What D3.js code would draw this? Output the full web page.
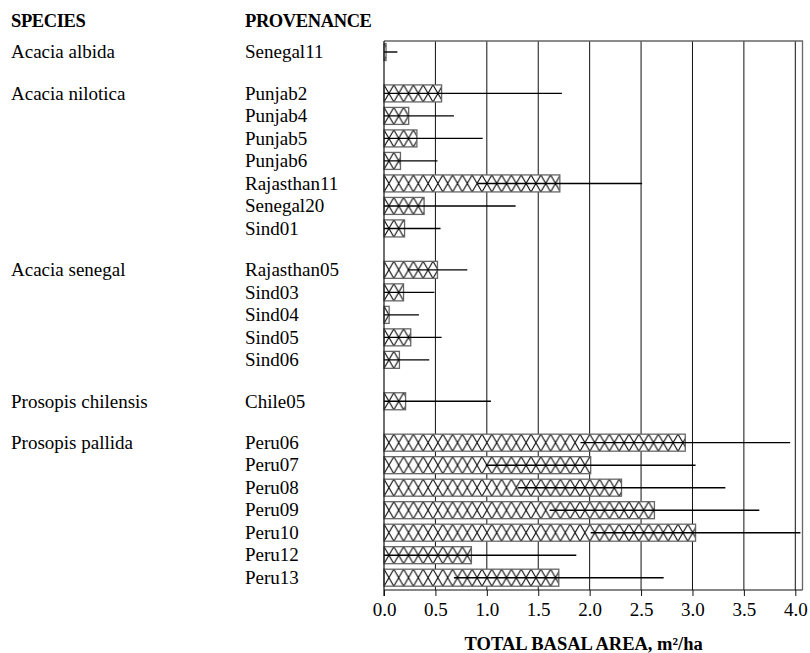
<!DOCTYPE html>
<html>
<head>
<meta charset="utf-8">
<script src="https://cdn.jsdelivr.net/npm/d3@7"></script>
<style>
  html, body { margin: 0; padding: 0; background: #fff; }
  svg { display: block; }
  text { font-family: "Liberation Serif", "Times New Roman", serif; fill: #000; }
</style>
</head>
<body>
<svg id="chart" width="810" height="653"></svg>
<script>
// Species groups and their provenances (one entry per bar)
const species = ["Acacia albida", "Acacia nilotica", "Acacia senegal", "Prosopis chilensis", "Prosopis pallida"];
const provenances = [
  "Senegal11",
  "Punjab2", "Punjab4", "Punjab5", "Punjab6", "Rajasthan11", "Senegal20", "Sind01",
  "Rajasthan05", "Sind03", "Sind04", "Sind05", "Sind06",
  "Chile05",
  "Peru06", "Peru07", "Peru08", "Peru09", "Peru10", "Peru12", "Peru13"
];
const speciesIndex = [0, 1, 1, 1, 1, 1, 1, 1, 2, 2, 2, 2, 2, 3, 4, 4, 4, 4, 4, 4, 4];
// Mean total basal area (m²/ha) and its standard deviation
const basalArea = [0.02, 0.56, 0.24, 0.32, 0.16, 1.71, 0.39, 0.20, 0.52, 0.19, 0.05, 0.26, 0.15, 0.21, 2.93, 2.01, 2.31, 2.63, 3.03, 0.85, 1.70];
const stdDev    = [0.11, 1.17, 0.44, 0.64, 0.36, 0.80, 0.89, 0.35, 0.29, 0.30, 0.29, 0.30, 0.29, 0.83, 1.02, 1.02, 1.01, 1.02, 1.02, 1.02, 1.02];
const xTicks = [0, 0.5, 1.0, 1.5, 2.0, 2.5, 3.0, 3.5, 4.0];

const svg = d3.select("#chart");
const groupGap = 0.84;     // extra row spacing between species groups
const barH = 17;

const slot = (i) => i + groupGap * speciesIndex[i];
const nSlots = slot(provenances.length - 1);

const x = d3.scaleLinear().domain([0, 4.07]).range([384, 802.5]);
const y = d3.scaleLinear().domain([0, nSlots]).range([52, 577.7]);

const plotTop = 41, plotBottom = 590;
const fontSize = 19;

// Per-bar cross-hatch patterns anchored to each bar's top edge
const defs = svg.append("defs");
const pw = 9.8, ph = barH;
provenances.forEach((p, i) => {
  const pat = defs.append("pattern")
    .attr("id", "hatch" + i)
    .attr("patternUnits", "userSpaceOnUse")
    .attr("x", x(0)).attr("y", y(slot(i)) - barH / 2)
    .attr("width", pw).attr("height", ph);
  pat.append("rect").attr("width", pw).attr("height", ph).attr("fill", "#fff");
  pat.append("path")
    .attr("d", `M0,0L${pw},${ph}M${pw},0L0,${ph}M${-pw},0L0,${ph}M${pw},${ph}L${2*pw},0`)
    .attr("stroke", "#000").attr("stroke-width", 1.1).attr("fill", "none");
});

// Vertical gridlines at each tick
svg.append("g").selectAll("line").data(xTicks.slice(1)).join("line")
  .attr("x1", d => x(d)).attr("x2", d => x(d))
  .attr("y1", plotTop).attr("y2", plotBottom)
  .attr("stroke", "#111").attr("stroke-width", 1);

// Plot frame (top and right)
svg.append("path")
  .attr("d", `M${x(0)},${plotTop}H${x.range()[1]}V${plotBottom}`)
  .attr("fill", "none").attr("stroke", "#666").attr("stroke-width", 1.3);

// Bars
svg.append("g").selectAll("rect").data(basalArea).join("rect")
  .attr("x", x(0))
  .attr("y", (d, i) => y(slot(i)) - barH / 2)
  .attr("width", d => x(d) - x(0))
  .attr("height", barH)
  .attr("fill", (d, i) => `url(#hatch${i})`)
  .attr("stroke", "#666").attr("stroke-width", 1.3);

// Standard deviation lines (mean ± sd, clipped at zero)
svg.append("g").selectAll("line").data(basalArea).join("line")
  .attr("x1", (d, i) => x(Math.max(0, d - stdDev[i])))
  .attr("x2", (d, i) => x(d + stdDev[i]))
  .attr("y1", (d, i) => y(slot(i)))
  .attr("y2", (d, i) => y(slot(i)))
  .attr("stroke", "#000").attr("stroke-width", 1.4);

// Bottom axis with ticks
const axis = svg.append("g")
  .attr("transform", `translate(0,${plotBottom})`)
  .call(d3.axisBottom(x).tickValues(xTicks).tickFormat(d3.format(".1f")).tickSize(6).tickPadding(7));
axis.select(".domain").attr("d", `M${x(0)},0H${x.range()[1]}`).attr("stroke", "#111");
axis.selectAll(".tick line").attr("stroke", "#111");
axis.selectAll("text")
  .style("font-family", '"Liberation Serif", serif')
  .style("font-size", fontSize + "px").attr("fill", "#000");

// Left axis line
svg.append("line")
  .attr("x1", x(0)).attr("x2", x(0)).attr("y1", plotTop).attr("y2", plotBottom + 6)
  .attr("stroke", "#111").attr("stroke-width", 1.2);

// Axis title
svg.append("text")
  .attr("x", (x(0) + x(4)) / 2 - 6).attr("y", 650)
  .attr("text-anchor", "middle")
  .style("font-size", "18.5px").style("font-weight", "bold")
  .text("TOTAL BASAL AREA, m²/ha");

// Column headers
const colSpecies = 11, colProv = 245;
svg.append("text").attr("x", colSpecies).attr("y", 27.3)
  .style("font-size", "18.5px").style("font-weight", "bold").style("letter-spacing", "-0.4px")
  .text("SPECIES");
svg.append("text").attr("x", colProv).attr("y", 27.3)
  .style("font-size", "18.5px").style("font-weight", "bold").style("letter-spacing", "-0.4px")
  .text("PROVENANCE");

// Provenance labels
svg.append("g").selectAll("text").data(provenances).join("text")
  .attr("x", colProv)
  .attr("y", (d, i) => y(slot(i)) + 6.3)
  .style("font-size", fontSize + "px")
  .text(d => d);

// Species labels, at the first provenance row of each group
svg.append("g").selectAll("text").data(species).join("text")
  .attr("x", colSpecies)
  .attr("y", (d, k) => y(slot(speciesIndex.indexOf(k))) + 6.3)
  .style("font-size", fontSize + "px")
  .text(d => d);
</script>
</body>
</html>
